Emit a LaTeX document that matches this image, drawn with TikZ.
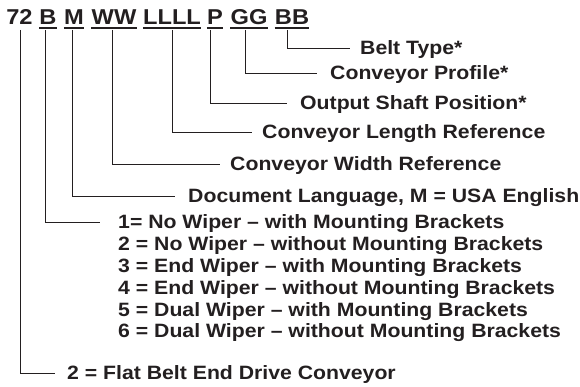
\documentclass[tikz,border=0pt]{standalone}
\usepackage{fontspec}
\setmainfont{Liberation Sans}[FakeStretch=1.1]
\usepackage{xcolor}
\definecolor{ink}{RGB}{35,31,32}

\begin{document}
\begin{tikzpicture}[x=1pt,y=-1pt,
  code/.style={anchor=base, inner sep=0pt, text=ink, font=\fontsize{21.5}{24}\selectfont\bfseries},
  lbl/.style={anchor=west, inner sep=0pt, text=ink, text height=13.8pt, text depth=0pt, font=\fontsize{19.3}{22}\selectfont\bfseries},
  lead/.style={line width=0.9pt, draw=ink}]
\useasboundingbox (0,0) rectangle (580,387);

% model code
\node[code] (c72) at (19.5,25) {72};
\node[code] (cB) at (48,25) {B};
\node[code] (cM) at (74,25) {M};
\node[code] (cWW) at (114,25) {WW};
\node[code] (cLLLL) at (172,25) {LLLL};
\node[code] (cP) at (215,25) {P};
\node[code] (cGG) at (249,25) {GG};
\node[code] (cBB) at (292,25) {BB};
\foreach \n in {cB,cM,cWW,cLLLL,cP,cGG,cBB}
  \draw[line width=1.4pt, ink] ([yshift=-3pt]\n.base west) -- ([yshift=-3pt]\n.base east);

% meanings
\node[lbl] (lBB) at (360,48) {Belt Type*};
\node[lbl] (lGG) at (330,73) {Conveyor Profile*};
\node[lbl] (lP) at (300,103) {Output Shaft Position*};
\node[lbl] (lLLLL) at (262,132) {Conveyor Length Reference};
\node[lbl] (lWW) at (230,164) {Conveyor Width Reference};
\node[lbl] (lM) at (188,196) {Document Language, M = USA English};
\foreach \t [count=\i] in {1= No Wiper – with Mounting Brackets,
                           2 = No Wiper – without Mounting Brackets,
                           3 = End Wiper – with Mounting Brackets,
                           4 = End Wiper – without Mounting Brackets,
                           5 = Dual Wiper – with Mounting Brackets,
                           6 = Dual Wiper – without Mounting Brackets}
  \node[lbl] (w\i) at (118,{222+21.8*(\i-1)}) {\t};
\node[lbl] (l72) at (67,373) {2 = Flat Belt End Drive Conveyor};

% leaders
\foreach \c/\l/\dx/\gap in {c72/l72/1/12, cB/w1/-3/18, cM/lM/-2/13, cWW/lWW/-2/10,
                            cLLLL/lLLLL/0/10, cP/lP/-5/13, cGG/lGG/-4/13, cBB/lBB/-5/10}
  \draw[lead] ([xshift=\dx pt,yshift=-5pt]\c.base) |- ([xshift=-\gap pt]\l.west);
\end{tikzpicture}
\end{document}
